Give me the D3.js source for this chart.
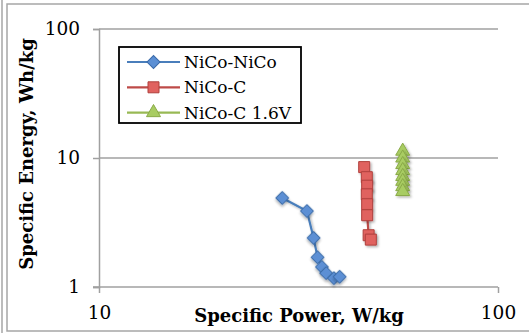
<!DOCTYPE html>
<html>
<head>
<meta charset="utf-8">
<script src="https://cdn.jsdelivr.net/npm/d3@7"></script>
<style>
  body { margin: 0; background: #fff; }
  svg text { font-family: "DejaVu Serif", "Liberation Serif", serif; }
</style>
</head>
<body>
<script>
// series names
let seriesNames = ["NiCo-NiCo", "NiCo-C", "NiCo-C 1.6V"];

// NiCo-NiCo (power W/kg, energy Wh/kg)
let nicoPower  = [28.8, 33.2, 34.5, 35.3, 36.2, 37.1, 38.8, 40.1];
let nicoEnergy = [4.9, 3.88, 2.40, 1.70, 1.43, 1.28, 1.17, 1.20];

// NiCo-C
let nicoCPower  = [46.2, 46.9, 47.0, 46.9, 47.0, 47.0, 47.4, 48.0];
let nicoCEnergy = [8.5, 7.1, 6.1, 5.23, 4.38, 3.6, 2.52, 2.33];

// NiCo-C 1.6V
let nicoC16Power  = [57.7, 57.7, 57.7, 57.7, 57.7, 57.7, 57.7, 57.7];
let nicoC16Energy = [11.3, 10.0, 8.9, 8.0, 7.2, 6.6, 6.0, 5.5];

let xTicks = [10, 100];
let yTicks = [1, 10, 100];

let w = 529, h = 333;
let margin = {left: 99, right: 31, top: 29, bottom: 46};

let svg = d3.select('body').append('svg').attr('width', w).attr('height', h);

// outer frames
svg.append('line').attr('x1', 2).attr('x2', 2).attr('y1', 0).attr('y2', h)
  .style('stroke', '#a6a6a6').style('stroke-width', 1.5);
svg.append('rect').attr('x', 7).attr('y', 4).attr('width', 530).attr('height', 327)
  .style('fill', 'none').style('stroke', '#a6a6a6').style('stroke-width', 1.5);

let xScale = d3.scaleLog().domain([10, 100]).range([margin.left, w - margin.right]);
let yScale = d3.scaleLog().domain([1, 100]).range([h - margin.bottom, margin.top]);

let defs = svg.append('defs');
let shadow = defs.append('filter').attr('id', 'shadow')
  .attr('x', '-50%').attr('y', '-50%').attr('width', '200%').attr('height', '200%');
shadow.append('feDropShadow').attr('dx', 1.5).attr('dy', 1.5).attr('stdDeviation', 1.2)
  .attr('flood-color', '#000').attr('flood-opacity', 0.3);

// gridlines
svg.append('g').selectAll('line')
  .data(yTicks.slice(1))
  .enter().append('line')
  .attr('x1', xScale(10)).attr('x2', xScale(100))
  .attr('y1', d => yScale(d)).attr('y2', d => yScale(d))
  .style('stroke', '#a0a0a0').style('stroke-width', 1.5);

// axes
let xAxis = d3.axisBottom(xScale).tickValues(xTicks).tickSize(6).tickPadding(10)
  .tickFormat(d3.format('d'));
let xAxisGroup = svg.append('g')
  .attr('transform', `translate(0, ${yScale(1)})`)
  .call(xAxis);

let yAxis = d3.axisLeft(yScale).tickValues(yTicks).tickSize(6).tickPadding(13)
  .tickFormat(d3.format('d'));
let yAxisGroup = svg.append('g')
  .attr('transform', `translate(${xScale(10)}, 0)`)
  .call(yAxis);

[xAxisGroup, yAxisGroup].forEach(g => {
  g.select('.domain').style('stroke', '#a0a0a0').style('stroke-width', 1.5);
  g.selectAll('.tick line').style('stroke', '#a0a0a0').style('stroke-width', 1.5);
  g.selectAll('.tick text').style('font-size', '18.5px').style('fill', '#000');
});
xAxisGroup.select('.domain').attr('d', `M${xScale(10) - 6},0H${xScale(100)}`);
xAxisGroup.selectAll('.tick text').attr('dy', '0.85em');

// axis titles
svg.append('text')
  .attr('x', 299).attr('y', 322)
  .attr('text-anchor', 'middle')
  .style('font-size', '18px').style('font-weight', 'bold')
  .text('Specific Power, W/kg');
svg.append('text')
  .attr('transform', `translate(33, 154) rotate(-90)`)
  .attr('text-anchor', 'middle')
  .style('font-size', '18px').style('font-weight', 'bold')
  .text('Specific Energy, Wh/kg');

// series
let series = [
  {name: seriesNames[0], px: nicoPower, py: nicoEnergy, line: '#4a7ebb', fill: '#5b8fd4', stroke: '#3a6aa8', sym: d3.symbolSquare, size: 85, rot: 45},
  {name: seriesNames[1], px: nicoCPower, py: nicoCEnergy, line: '#be4b48', fill: '#e0625f', stroke: '#b0403d', sym: d3.symbolSquare, size: 121, rot: 0},
  {name: seriesNames[2], px: nicoC16Power, py: nicoC16Energy, line: '#98b954', fill: '#a8cc62', stroke: '#8aaa48', sym: d3.symbolTriangle, size: 85, rot: 0}
];

let line = d3.line().x(d => xScale(d[0])).y(d => yScale(d[1]));

series.forEach(s => {
  let pts = s.px.map((v, i) => [v, s.py[i]]);
  let g = svg.append('g');
  g.append('path').datum(pts)
    .attr('d', line)
    .style('fill', 'none').style('stroke', s.line).style('stroke-width', 2.2)
    .attr('filter', 'url(#shadow)');
  g.selectAll('.pt').data(pts).enter().append('path')
    .classed('pt', true)
    .attr('d', d3.symbol().type(s.sym).size(s.size))
    .attr('transform', d => `translate(${xScale(d[0])}, ${yScale(d[1])}) rotate(${s.rot})`)
    .style('fill', s.fill).style('stroke', s.stroke).style('stroke-width', 1)
    .attr('filter', 'url(#shadow)');
});

// legend
let legend = svg.append('g');
legend.append('rect')
  .attr('x', 119).attr('y', 47).attr('width', 182).attr('height', 76)
  .style('fill', '#fff').style('stroke', '#000').style('stroke-width', 1.8);
series.forEach((s, i) => {
  let ly = 62 + i * 25.3;
  legend.append('line').attr('x1', 127).attr('x2', 180).attr('y1', ly).attr('y2', ly)
    .style('stroke', s.line).style('stroke-width', 2.2);
  legend.append('path')
    .attr('d', d3.symbol().type(s.sym).size(s.size))
    .attr('transform', `translate(153.5, ${ly}) rotate(${s.rot})`)
    .style('fill', s.fill).style('stroke', s.stroke).style('stroke-width', 1);
  legend.append('text')
    .attr('x', 184).attr('y', ly).attr('dy', '0.36em')
    .style('font-size', '17px')
    .text(s.name);
});
</script>
</body>
</html>
